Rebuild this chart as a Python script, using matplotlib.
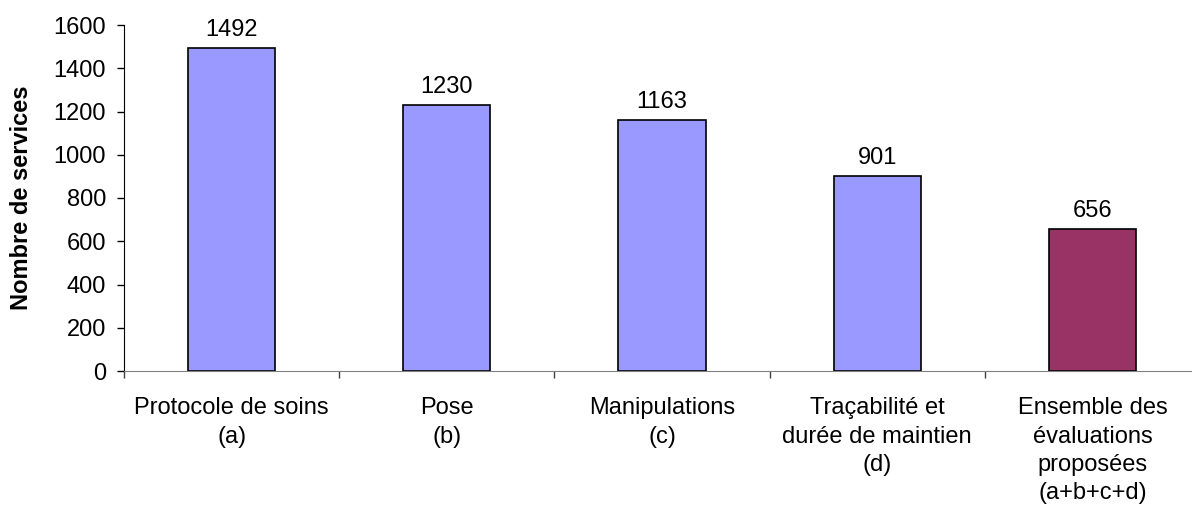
import matplotlib
matplotlib.use("Agg")
import matplotlib.pyplot as plt

categories = ["Protocole de soins\n(a)", "Pose\n(b)", "Manipulations\n(c)",
              "Traçabilité et\ndurée de maintien\n(d)",
              "Ensemble des\névaluations\nproposées\n(a+b+c+d)"]
values = [1492, 1230, 1163, 901, 656]
colors = ["#9999FF", "#9999FF", "#9999FF", "#9999FF", "#993366"]
yticks = [0, 200, 400, 600, 800, 1000, 1200, 1400, 1600]

plt.rcParams['font.family'] = ['Liberation Sans', 'DejaVu Sans']
FS = 17

fig = plt.figure(figsize=(11.92, 5.09), dpi=100)
ax = fig.add_axes([124/1192, 1 - 371/509, 1076/1192, (371 - 25)/509])

x = list(range(len(values)))
bars = ax.bar(x, values, width=0.405, color=colors, edgecolor="black", linewidth=1.2)
for xi, v in zip(x, values):
    ax.annotate(str(v), (xi, v), xytext=(0, 5), textcoords="offset points",
                ha="center", va="bottom", fontsize=FS)

ax.set_xlim(-0.5, len(values) - 0.5)
ax.set_ylim(0, 1600)
ax.set_yticks(yticks)
ax.set_yticklabels([str(t) for t in yticks], fontsize=FS)
ax.tick_params(axis='y', direction='out', length=5, width=1, pad=8, color='black')

# category boundary ticks
ax.set_xticks([i - 0.5 for i in range(len(values) + 1)])
ax.set_xticklabels([])
ax.tick_params(axis='x', direction='out', length=5, width=1, color='#404040')
for xi, lab in zip(x, categories):
    ax.annotate(lab, (xi, 0), xytext=(0, -19), textcoords="offset points",
                ha="center", va="top", fontsize=FS, linespacing=1.36,
                annotation_clip=False)

ax.set_ylabel("Nombre de services", fontsize=FS, fontweight="bold")
ax.yaxis.set_label_coords(-91/1076, 0.5)

for s in ["top", "right"]:
    ax.spines[s].set_visible(False)
ax.spines["left"].set_color("black")
ax.spines["bottom"].set_color("#808080")

fig.savefig("out.png", dpi=100)
